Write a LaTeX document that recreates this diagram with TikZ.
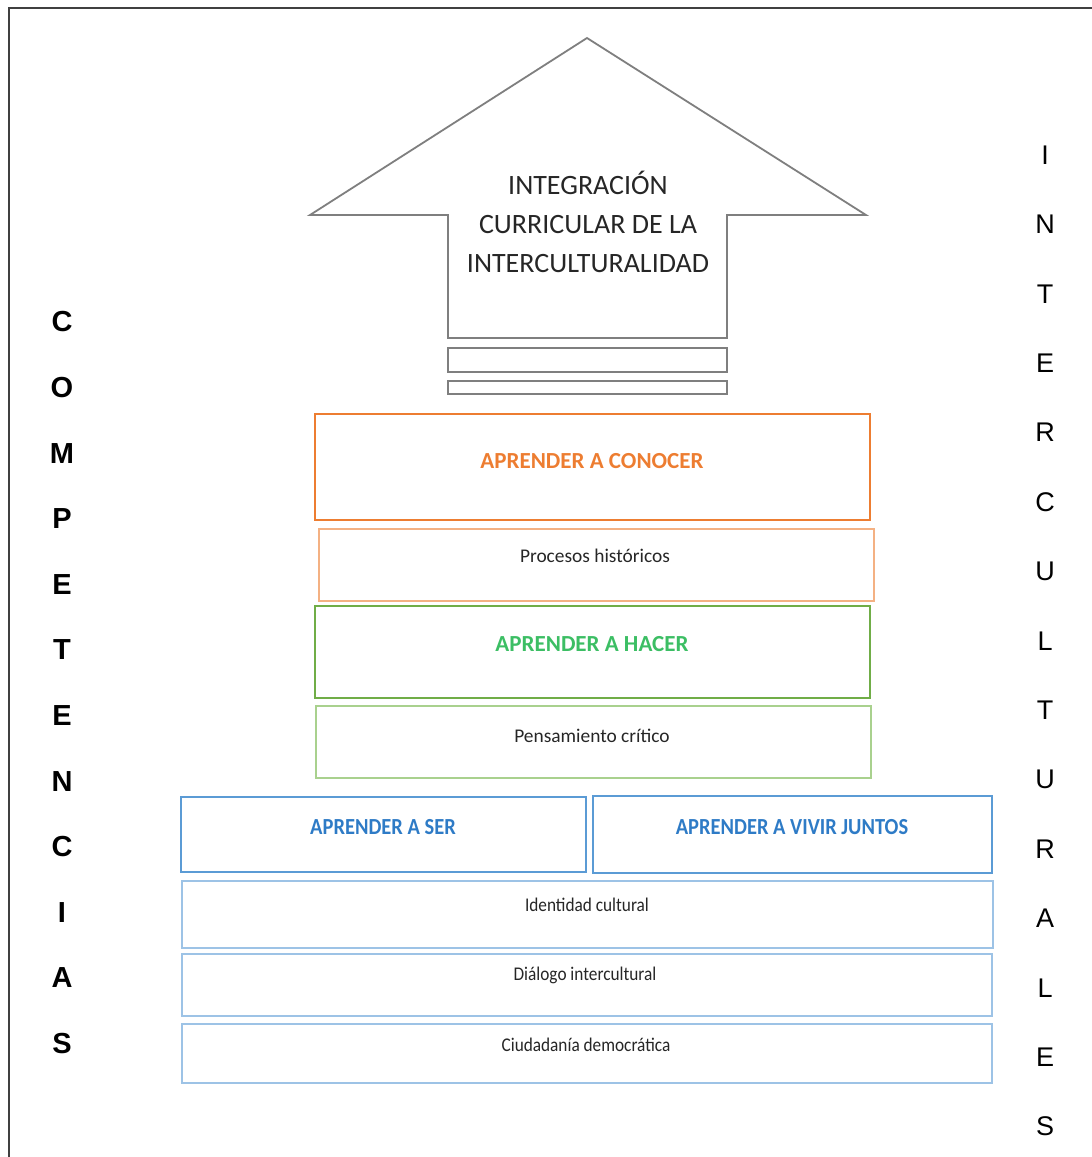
\documentclass[tikz,border=0pt]{standalone}
\usepackage{fontspec}
\setmainfont{Carlito}
\newfontfamily\sidefont{Liberation Sans}
\definecolor{framegray}{HTML}{404040}
\definecolor{arrowgray}{HTML}{7F7F7F}
\definecolor{textgray}{HTML}{262626}
\definecolor{orgA}{HTML}{ED7D31}
\definecolor{orgB}{HTML}{F4B183}
\definecolor{grnA}{HTML}{70AD47}
\definecolor{grnT}{HTML}{3CBE64}
\definecolor{grnB}{HTML}{A9D18E}
\definecolor{bluA}{HTML}{5B9BD5}
\definecolor{bluT}{HTML}{2E7BC6}
\definecolor{bluB}{HTML}{9DC3E6}
\begin{document}
\begin{tikzpicture}[x=1pt,y=-1pt,
  titletext/.style={font=\fontsize{28}{39}\selectfont, text=textgray, align=center, inner sep=0},
  headtext/.style={font=\bfseries\fontsize{23}{26}\selectfont, inner sep=0},
  subtext/.style={font=\fontsize{19.4}{22}\selectfont, text=textgray, inner sep=0},
  sidel/.style={font=\sidefont\bfseries\fontsize{29}{30}\selectfont, text=black, inner sep=0},
  sider/.style={font=\sidefont\fontsize{27}{30}\selectfont, text=black, inner sep=0},
  bigbox/.style={draw, line width=2.2pt, rectangle, inner sep=0},
  smallbox/.style={draw, line width=1.5pt, rectangle, inner sep=0}]
\useasboundingbox (0,0) rectangle (1092,1157);
% frame
\coordinate (fbl) at (9,1157);
\coordinate (ftl) at (9,8);
\coordinate (ftr) at (1092,8);
\draw[framegray, line width=1.3pt] (fbl) -- (ftl) -- (ftr);
% arrow
\draw[arrowgray, line width=1.8pt, line join=miter]
  (587,38) -- (866,215) -- (727,215) -- (727,338) -- (448,338) -- (448,215) -- (310,215) -- cycle;
\node[titletext] (title) at (588,222) {INTEGRACIÓN\\CURRICULAR DE LA\\INTERCULTURALIDAD};
\draw[arrowgray, line width=1.6pt] (448,348) rectangle (727,372);
\draw[arrowgray, line width=1.6pt] (448,381) rectangle (727,394);
% orange
\node[bigbox, draw=orgA, minimum width=555pt, minimum height=106pt] (conB) at (592.5,467) {};
\node[headtext, text=orgA] (conT) at (592,461) {APRENDER A CONOCER};
\node[smallbox, draw=orgB, minimum width=555pt, minimum height=72pt] (proB) at (596.5,565) {};
\node[subtext] (proT) at (595,556) {Procesos históricos};
% green
\node[bigbox, draw=grnA, minimum width=555pt, minimum height=92pt] (hacB) at (592.5,652) {};
\node[headtext, text=grnT] (hacT) at (592,644) {APRENDER A HACER};
\node[smallbox, draw=grnB, minimum width=555pt, minimum height=72pt] (penB) at (593.5,742) {};
\node[subtext] (penT) at (592,736) {Pensamiento crítico};
% blue
\node[bigbox, draw=bluA, minimum width=405pt, minimum height=75pt] (serB) at (383.5,834.5) {};
\node[headtext, text=bluT, xscale=0.89] (serT) at (383,827) {APRENDER A SER};
\node[bigbox, draw=bluA, minimum width=399pt, minimum height=77pt] (vivB) at (792.5,834.5) {};
\node[headtext, text=bluT, xscale=0.89] (vivT) at (792,827) {APRENDER A VIVIR JUNTOS};
\node[smallbox, draw=bluB, minimum width=811pt, minimum height=67pt] (ideB) at (587.5,914.5) {};
\node[subtext, xscale=0.89] (ideT) at (587,905) {Identidad cultural};
\node[smallbox, draw=bluB, minimum width=810pt, minimum height=62pt] (diaB) at (587,985) {};
\node[subtext, xscale=0.89] (diaT) at (585,975) {Diálogo intercultural};
\node[smallbox, draw=bluB, minimum width=810pt, minimum height=59pt] (ciuB) at (587,1053.5) {};
\node[subtext, xscale=0.89] (ciuT) at (586,1045) {Ciudadanía democrática};
% side letters
\foreach \l [count=\i from 0] in {C,O,M,P,E,T,E,N,C,I,A,S}
  \node[sidel] (L\i) at (62,{322+65.6*\i}) {\l};
\foreach \l [count=\i from 0] in {I,N,T,E,R,C,U,L,T,U,R,A,L,E,S}
  \node[sider] (R\i) at (1045,{155+69.4*\i}) {\l};
\end{tikzpicture}
\end{document}
